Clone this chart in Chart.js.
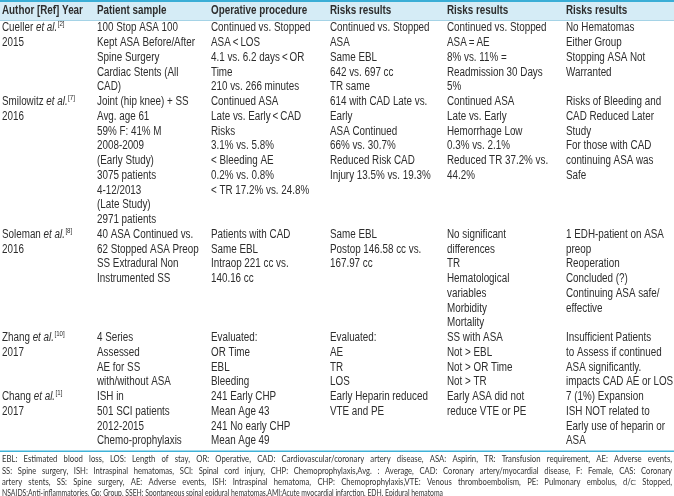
<!DOCTYPE html>
<html>
<head>
<meta charset="utf-8">
<script src="https://cdn.jsdelivr.net/npm/chart.js@4.4.0/dist/chart.umd.min.js"></script>
<style>
  html, body { margin: 0; padding: 0; background: #fff; }
  #tabela { display: block; }
</style>
</head>
<body>
<canvas id="tabela" width="674" height="496"></canvas>
<script>
// Dados da tabela
const cabecalhos = ['Author [Ref] Year', 'Patient sample', 'Operative procedure', 'Risks results', 'Risks results', 'Risks results'];
const autores = ['Cueller', 'Smilowitz', 'Soleman', 'Zhang', 'Chang'];
const referencias = ['2', '7', '8', '10', '1'];
const anos = ['2015', '2016', '2016', '2017', '2017'];

const amostras = [
  ['100 Stop ASA 100', 'Kept ASA Before/After', 'Spine Surgery', 'Cardiac Stents (All', 'CAD)'],
  ['Joint (hip knee) + SS', 'Avg. age 61', '59% F: 41% M', '2008-2009', '(Early Study)', '3075 patients', '4-12/2013', '(Late Study)', '2971 patients'],
  ['40 ASA Continued vs.', '62 Stopped ASA Preop', 'SS Extradural Non', 'Instrumented SS'],
  ['4 Series', 'Assessed', 'AE for SS', 'with/without ASA'],
  ['ISH in', '501 SCI patients', '2012-2015', 'Chemo-prophylaxis']
];
const procedimentos = [
  ['Continued vs. Stopped', 'ASA\u2009<\u2009LOS', '4.1 vs. 6.2 days\u2009<\u2009OR', 'Time', '210 vs. 266 minutes'],
  ['Continued ASA', 'Late vs. Early\u2009<\u2009CAD', 'Risks', '3.1% vs. 5.8%', '< Bleeding AE', '0.2% vs. 0.8%', '< TR 17.2% vs. 24.8%'],
  ['Patients with CAD', 'Same EBL', 'Intraop 221 cc vs.', '140.16 cc'],
  ['Evaluated:', 'OR Time', 'EBL', 'Bleeding'],
  ['241 Early CHP', 'Mean Age 43', '241 No early CHP', 'Mean Age 49']
];
const riscosA = [
  ['Continued vs. Stopped', 'ASA', 'Same EBL', '642 vs. 697 cc', 'TR same'],
  ['614 with CAD Late vs.', 'Early', 'ASA Continued', '66% vs. 30.7%', 'Reduced Risk CAD', 'Injury 13.5% vs. 19.3%'],
  ['Same EBL', 'Postop 146.58 cc vs.', '167.97 cc'],
  ['Evaluated:', 'AE', 'TR', 'LOS'],
  ['Early Heparin reduced', 'VTE and PE']
];
const riscosB = [
  ['Continued vs. Stopped', 'ASA\u2009=\u2009AE', '8% vs. 11% =', 'Readmission 30 Days', '5%'],
  ['Continued ASA', 'Late vs. Early', 'Hemorrhage Low', '0.3% vs. 2.1%', 'Reduced TR 37.2% vs.', '44.2%'],
  ['No significant', 'differences', 'TR', 'Hematological', 'variables', 'Morbidity', 'Mortality'],
  ['SS with ASA', 'Not > EBL', 'Not > OR Time', 'Not > TR'],
  ['Early ASA did not', 'reduce VTE or PE']
];
const riscosC = [
  ['No Hematomas', 'Either Group', 'Stopping ASA Not', 'Warranted'],
  ['Risks of Bleeding and', 'CAD Reduced Later', 'Study', 'For those with CAD', 'continuing ASA was', 'Safe'],
  ['1 EDH-patient on ASA', 'preop', 'Reoperation', 'Concluded (?)', 'Continuing ASA safe/', 'effective'],
  ['Insufficient Patients', 'to Assess if continued', 'ASA significantly.', 'impacts CAD AE or LOS'],
  ['7 (1%) Expansion', 'ISH NOT related to', 'Early use of heparin or', 'ASA']
];
const notas = [
  'EBL: Estimated blood loss, LOS: Length of stay, OR: Operative, CAD: Cardiovascular/coronary artery disease, ASA: Aspirin, TR: Transfusion requirement, AE: Adverse events,',
  'SS: Spine surgery, ISH: Intraspinal hematomas, SCI: Spinal cord injury, CHP: Chemoprophylaxis,Avg. : Average, CAD: Coronary artery/myocardial disease, F: Female, CAS: Coronary',
  'artery stents, SS: Spine surgery, AE: Adverse events, ISH: Intraspinal hematoma, CHP: Chemoprophylaxis,VTE: Venous thromboembolism, PE: Pulmonary embolus, d/c: Stopped,',
  'NSAIDS:Anti-inflammatories, Gp: Group, SSEH: Spontaneous spinal epidural hematomas,AMI:Acute myocardial infarction, EDH, Epidural hematoma'
];

// Layout (pixels da escala x, linhas na escala y)
const colunasX = [2, 97, 211, 330, 447, 566];
const LARGURA = 674, ALTURA = 496;
const PRIMEIRA_LINHA = 28, ALTURA_LINHA = 14.75;
const corTexto = '#2d2d2d';

// Verifica se a fonte estreita existe; senão comprime a Liberation Sans
const testeCtx = document.createElement('canvas').getContext('2d');
testeCtx.font = '20px "Liberation Sans Narrow", monospace';
const wA = testeCtx.measureText('Continued vs. Stopped').width;
testeCtx.font = '20px monospace';
const wB = testeCtx.measureText('Continued vs. Stopped').width;
const temNarrow = Math.abs(wA - wB) > 1;

function fonte(estilo, tam) {
  return temNarrow ? `${estilo} ${tam}px "Liberation Sans Narrow"` : `${estilo} ${tam}px "Liberation Sans", Arial`;
}
const ESCALA = temNarrow ? 1 : 0.82;

function texto(ctx, str, x, y, estilo, tam) {
  ctx.font = fonte(estilo, tam);
  ctx.save();
  ctx.translate(x, y);
  ctx.scale(ESCALA, 1);
  ctx.fillText(str, 0, 0);
  ctx.restore();
  return ctx.measureText(str).width * ESCALA;
}

// Plugin que desenha a tabela usando as escalas do gráfico
const tabelaPlugin = {
  id: 'tabela',
  afterDraw(chart) {
    const { ctx, scales: { x, y } } = chart;
    const py = (v) => y.getPixelForValue(v);
    const linhaDe = (pix) => (pix - PRIMEIRA_LINHA) / ALTURA_LINHA;

    ctx.save();
    // cabeçalho
    const topo = py(linhaDe(0)), base = py(linhaDe(20));
    ctx.fillStyle = '#d5ecf6';
    ctx.fillRect(x.getPixelForValue(0), topo, x.getPixelForValue(LARGURA) - x.getPixelForValue(0), base - topo);
    ctx.fillStyle = '#3aaed6';
    ctx.fillRect(0, topo, LARGURA, 2);
    ctx.fillStyle = '#a5d3e6';
    ctx.fillRect(0, base, LARGURA, 1);

    ctx.textBaseline = 'middle';
    ctx.fillStyle = corTexto;
    cabecalhos.forEach((c, i) => {
      texto(ctx, c, x.getPixelForValue(colunasX[i]), py(linhaDe(10.5)), 'bold', 12);
    });

    // corpo
    let linha = 0;
    autores.forEach((autor, r) => {
      const colunas = [amostras[r], procedimentos[r], riscosA[r], riscosB[r], riscosC[r]];
      const yl = py(linha);
      let xx = x.getPixelForValue(colunasX[0]);
      xx += texto(ctx, autor + ' ', xx, yl, 'normal', 12);
      xx += texto(ctx, 'et al.', xx, yl, 'italic', 12);
      texto(ctx, '[' + referencias[r] + ']', xx + 0.5, yl - 4, 'normal', 7.5);
      texto(ctx, anos[r], x.getPixelForValue(colunasX[0]), py(linha + 1), 'normal', 12);

      colunas.forEach((linhas, c) => {
        linhas.forEach((t, k) => {
          texto(ctx, t, x.getPixelForValue(colunasX[c + 1]), py(linha + k), 'normal', 12);
        });
      });
      linha += Math.max(2, ...colunas.map((l) => l.length));
    });

    // linha de separação
    ctx.fillStyle = '#3fb2d8';
    ctx.fillRect(0, py(linhaDe(450.5)), LARGURA, 1.5);

    // notas de rodapé (justificadas, fonte comprimida horizontalmente)
    ctx.fillStyle = '#333';
    ctx.font = '10px Lato';
    const x0 = x.getPixelForValue(2), x1 = x.getPixelForValue(672);
    const compUltima = 441 / ctx.measureText(notas[3]).width;
    notas.forEach((n, i) => {
      const yn = py(linhaDe(459 + i * 11.4));
      const ultima = i === notas.length - 1;
      // linhas justificadas: meio-termo entre a compressão da última linha e o ajuste natural
      const comp = ultima ? compUltima : (compUltima + (x1 - x0 - 20) / ctx.measureText(n).width) / 2;
      const palavras = n.split(' ');
      const larguras = palavras.map((p) => ctx.measureText(p).width * comp);
      const total = larguras.reduce((a, b) => a + b, 0);
      const gap = ultima
        ? ctx.measureText(' ').width * comp
        : (x1 - x0 - total) / (palavras.length - 1);
      let xp = x0;
      palavras.forEach((p, k) => {
        ctx.save();
        ctx.translate(xp, yn);
        ctx.scale(comp, 1);
        ctx.fillText(p, 0, 0);
        ctx.restore();
        xp += larguras[k] + gap;
      });
    });
    ctx.restore();
  }
};

new Chart(document.getElementById('tabela'), {
  type: 'scatter',
  data: { datasets: [{ data: [], pointRadius: 0 }] },
  options: {
    responsive: false,
    animation: false,
    devicePixelRatio: 1,
    layout: { padding: 0 },
    plugins: { legend: { display: false }, tooltip: { enabled: false } },
    scales: {
      x: { type: 'linear', display: false, min: 0, max: LARGURA },
      y: {
        type: 'linear', display: false, reverse: true,
        min: -PRIMEIRA_LINHA / ALTURA_LINHA,
        max: (ALTURA - PRIMEIRA_LINHA) / ALTURA_LINHA
      }
    }
  },
  plugins: [tabelaPlugin]
});
</script>
</body>
</html>
